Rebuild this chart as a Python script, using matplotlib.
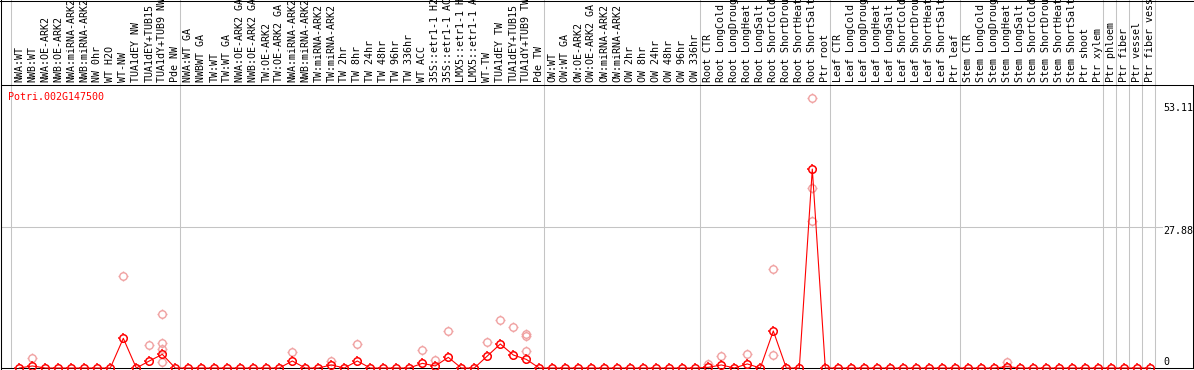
import numpy as np
import matplotlib.pyplot as plt
from matplotlib.path import Path
from matplotlib.lines import Line2D
from matplotlib.transforms import blended_transform_factory

# ------------------------------------------------------------
# data
# ------------------------------------------------------------
gene_name = "Potri.002G147500"

labels_nw = ["NWA:WT", "NWB:WT", "NWA:OE-ARK2", "NWB:OE-ARK2", "NWA:miRNA-ARK2",
             "NWB:miRNA-ARK2", "NW 0hr", "WT H2O", "WT-NW", "TUA1dEY NW",
             "TUA1dEY+TUB15", "TUA1dY+TUB9 NW", "Pde NW"]
labels_tw = ["NWA:WT GA", "NWBWT GA", "TW:WT", "TW:WT GA", "NWA:OE-ARK2 GA",
             "NWB:OE-ARK2 GA", "TW:OE-ARK2", "TW:OE-ARK2 GA", "NWA:miRNA-ARK2",
             "NWB:miRNA-ARK2", "TW:miRNA-ARK2", "TW:miRNA-ARK2", "TW 2hr", "TW 8hr",
             "TW 24hr", "TW 48hr", "TW 96hr", "TW 336hr", "WT ACC", "35S::etr1-1 H2",
             "35S::etr1-1 AC", "LMX5::etr1-1 H", "LMX5::etr1-1 A", "WT-TW",
             "TUA1dEY TW", "TUA1dEY+TUB15", "TUA1dY+TUB9 TW", "Pde TW"]
labels_ow = ["OW:WT", "OW:WT GA", "OW:OE-ARK2", "OW:OE-ARK2 GA", "OW:miRNA-ARK2",
             "OW:miRNA-ARK2", "OW 2hr", "OW 8hr", "OW 24hr", "OW 48hr", "OW 96hr",
             "OW 336hr"]
stress = ["CTR", "LongCold", "LongDroug", "LongHeat", "LongSalt",
          "ShortCold", "ShortDrou", "ShortHeat", "ShortSalt"]
labels_root = ["Root " + s for s in stress] + ["Ptr root"]
labels_leaf = ["Leaf " + s for s in stress] + ["Ptr leaf"]
labels_stem = ["Stem " + s for s in stress] + ["Ptr shoot", "Ptr xylem"]
labels_ptr = ["Ptr phloem", "Ptr fiber", "Ptr vessel", "Ptr fiber vess"]

categories = (labels_nw + labels_tw + labels_ow + labels_root
              + labels_leaf + labels_stem + labels_ptr)

# mean expression per sample
means_nw = [0, 0.4, 0, 0, 0, 0, 0, 0, 5.85, 0, 1.38, 2.69, 0]
means_tw = [0, 0, 0, 0, 0, 0, 0, 0, 1.38, 0, 0, 0.6, 0, 1.38, 0, 0, 0, 0,
            0.92, 0.4, 2.1, 0, 0, 2.36, 4.73, 2.56, 1.7, 0]
means_ow = [0] * 12
means_root = [0.13, 0.6, 0, 0.8, 0, 7.3, 0, 0, 39.2, 0]
means_leaf = [0] * 10
means_stem = [0, 0, 0, 0.26, 0, 0, 0, 0, 0, 0, 0]
means_ptr = [0, 0, 0, 0]
means = (means_nw + means_tw + means_ow + means_root
         + means_leaf + means_stem + means_ptr)

# individual replicates (sample index, value)
rep_idx = [1, 8, 10, 11, 11, 11, 11, 21, 24, 26, 31, 32, 33, 36, 37, 38,
           39, 39, 39, 53, 54, 56, 58, 58, 61, 61, 61, 76]
rep_val = [1.9, 18.1, 4.5, 10.6, 4.86, 3.7, 1.25, 3.2, 1.45, 4.7, 3.5, 1.5,
           7.2, 5.06, 9.4, 8.08, 6.7, 6.3, 3.35, 0.7, 2.3, 2.7, 19.6, 2.5,
           53.11, 35.4, 29.0, 1.1]

# last sample of each block (vertical separators)
group_ends = [-1, 12, 40, 52, 62, 72, 83, 84, 85, 86, 87]

y_top = max(rep_val)
y_mid = 27.88

# ------------------------------------------------------------
# figure
# ------------------------------------------------------------
W, H = 1194, 370
fig = plt.figure(figsize=(W / 100, H / 100), dpi=100)
ax = fig.add_axes([1 / W, 2 / H, 1191.5 / W, 283 / H])

x = np.arange(len(categories))
xmin = -18.3 / 13
ax.set_xlim(xmin, xmin + 1191.5 / 13)
ax.set_ylim(0, y_top * 1.05)
ax.set_xticks([])
ax.set_yticks([])
for sp in ax.spines.values():
    sp.set_linewidth(0.75)
    sp.set_color("black")

mono = "DejaVu Sans Mono"
fs = 7.2
grid_c = "#c4c4c4"

# separators (run up through the label strip)
ext = 368 / 283
for g in group_ends:
    ax.axvline(g + 0.35, 0, ext, color=grid_c, lw=0.75, clip_on=False, zorder=1)
ax.axhline(y_mid, 0, 0.974, color=grid_c, lw=0.75, zorder=1)

# circle marker + separate short stubs
stub = 1.3
ticks = Path.make_compound_path(*[
    Path([[dx, dy], [stub * dx, stub * dy]], [Path.MOVETO, Path.LINETO])
    for dx, dy in [(1, 0), (-1, 0), (0, 1), (0, -1)]])
ms_c = 5.4
for xs, ys, col, mw, z in [(rep_idx, rep_val, "#f0a0a0", 1.0, 2),
                           (x, means, "red", 1.1, 4)]:
    ax.plot(xs, ys, ls="none", marker="o", ms=ms_c, mfc="none",
            mec=col, mew=mw, clip_on=False, zorder=z)
    ax.plot(xs, ys, ls="none", marker=ticks, ms=ms_c * stub, mfc="none",
            mec=col, mew=mw, clip_on=False, zorder=z)
ax.plot(x, means, color="red", lw=0.8, clip_on=False, zorder=3)

# sample labels
trans = blended_transform_factory(ax.transData, ax.transAxes)
for i, lab in enumerate(categories):
    ax.text(i, 1 + 3 / 283, lab, rotation=90, ha="center", va="bottom",
            family=mono, fontsize=fs, transform=trans, clip_on=False)

# value labels on the right
lab_x = 87.98
for val, txt, off in [(y_top, "53.11", -10), (y_mid, "27.88", -4.5), (0, "0", 6)]:
    ax.annotate(txt, (lab_x, val), xytext=(0, off), textcoords="offset pixels",
                ha="left", va="center", family=mono, fontsize=fs)

fig.text(8 / W, 1 - 97 / H, gene_name, color="red", family=mono,
         fontsize=fs, ha="left", va="center")

# outer frame of the label strip
fig.add_artist(Line2D([0, 1], [1 - 0.5 / H, 1 - 0.5 / H], color="black",
                      lw=0.75, transform=fig.transFigure))
fig.add_artist(Line2D([1.2 / W, 1.2 / W], [1, 0], color="black",
                      lw=0.75, transform=fig.transFigure))

fig.savefig("out.png", dpi=100)
